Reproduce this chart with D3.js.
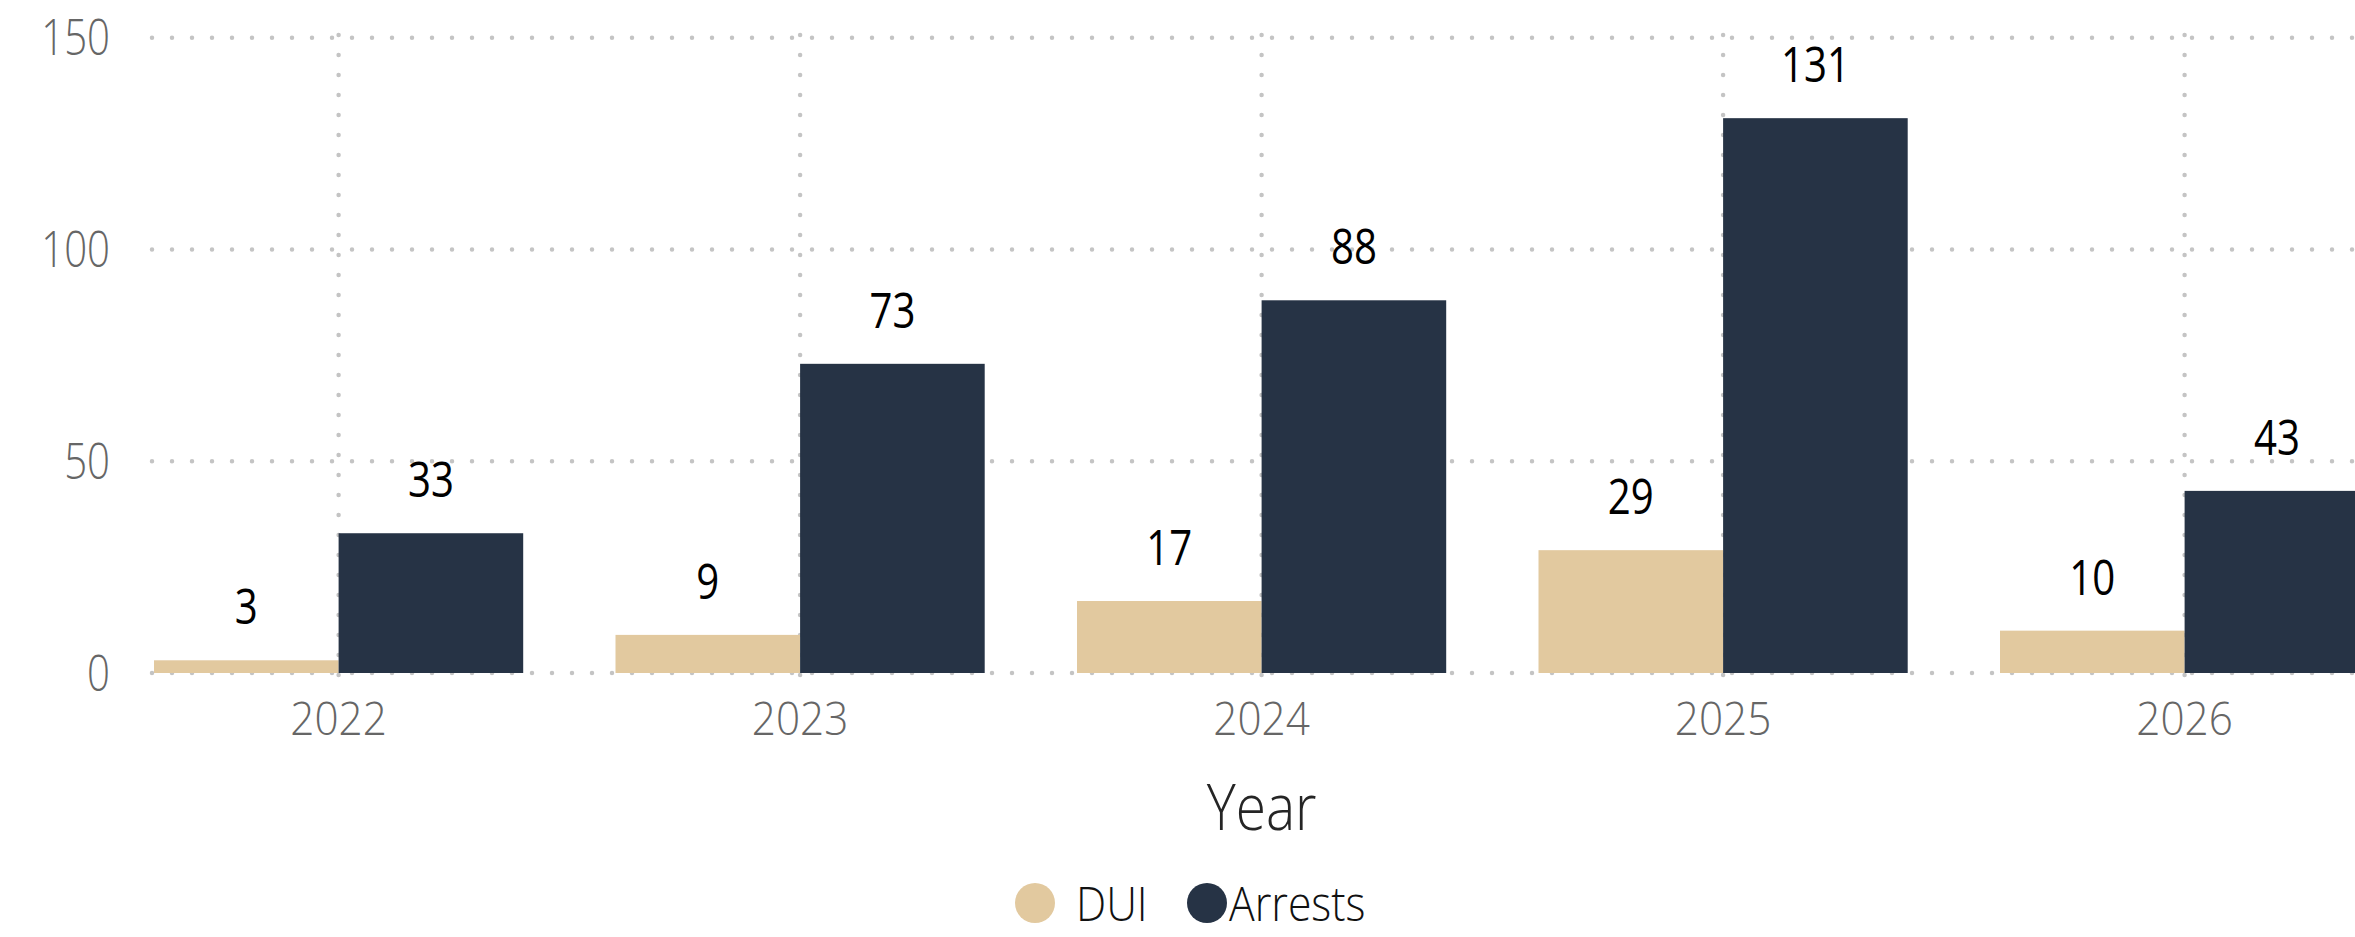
<!DOCTYPE html>
<html>
<head>
<meta charset="utf-8">
<script src="https://cdn.jsdelivr.net/npm/d3@7"></script>
<style>
  html, body { margin: 0; padding: 0; background: #fff; overflow: hidden; }
  text { font-family: 'Open Sans', 'Noto Sans', sans-serif; font-weight: 300; }
</style>
</head>
<body>
<svg id="chart" width="2355" height="937"></svg>
<script>
// chart values
const years = ['2022', '2023', '2024', '2025', '2026'];
const dui = [3, 9, 17, 29, 10];
const arrests = [33, 73, 88, 131, 43];
const seriesNames = ['DUI', 'Arrests'];
const yTicks = [0, 50, 100, 150];

const COLORS = ['#E2C99F', '#263345'];
const WIDTH = 2355;
const HEIGHT = 937;

// the reference font is narrower than Open Sans, squeeze text horizontally
function place(x, y, sx) {
    return `translate(${x},${y}) scale(${sx},1)`;
}

function make_chart() {
    let svg = d3.select('#chart');

    // x scale for the year groups
    let xScale = d3.scaleBand()
        .domain(years)
        .range([154, 154 + 461.5 * 4.8])
        .paddingInner(0.2)
        .paddingOuter(0);

    // inner scale for the two series in each group
    let xSub = d3.scaleBand()
        .domain(seriesNames)
        .range([0, xScale.bandwidth()]);

    let yScale = d3.scaleLinear()
        .domain([0, 150])
        .range([673, 37.7]);

    let color = d3.scaleOrdinal().domain(seriesNames).range(COLORS);

    // dotted gridlines
    let grid = svg.append('g').attr('id', 'grid')
        .attr('stroke', '#c4c4c4')
        .attr('stroke-width', 4.5)
        .attr('stroke-linecap', 'round')
        .attr('stroke-dasharray', '0 20');

    grid.selectAll('line.h')
        .data(yTicks)
        .join('line')
        .attr('class', 'h')
        .attr('x1', 152)
        .attr('x2', WIDTH)
        .attr('y1', d => yScale(d))
        .attr('y2', d => yScale(d));

    grid.selectAll('line.v')
        .data(years)
        .join('line')
        .attr('class', 'v')
        .attr('x1', d => xScale(d) + xScale.bandwidth() / 2)
        .attr('x2', d => xScale(d) + xScale.bandwidth() / 2)
        .attr('y1', 35)
        .attr('y2', 680);

    // flatten the series into one list of bars
    let bars = [];
    for (let i = 0; i < years.length; i++) {
        bars.push({year: years[i], series: 'DUI', value: dui[i]});
        bars.push({year: years[i], series: 'Arrests', value: arrests[i]});
    }

    svg.append('g').attr('id', 'bars')
        .selectAll('rect')
        .data(bars)
        .join('rect')
        .attr('x', d => xScale(d.year) + xSub(d.series))
        .attr('y', d => yScale(d.value))
        .attr('width', xSub.bandwidth())
        .attr('height', d => yScale(0) - yScale(d.value))
        .attr('fill', d => color(d.series));

    // value labels above each bar (regular weight, not light)
    svg.append('g').attr('id', 'values')
        .selectAll('text')
        .data(bars)
        .join('text')
        .text(d => d.value)
        .attr('transform', d => place(xScale(d.year) + xSub(d.series) + xSub.bandwidth() / 2, yScale(d.value) - 36, 0.82))
        .attr('text-anchor', 'middle')
        .attr('font-size', 49)
        .style('font-weight', 400)
        .attr('fill', '#000');

    // y tick labels
    svg.append('g').attr('id', 'y-labels')
        .selectAll('text')
        .data(yTicks)
        .join('text')
        .text(d => d)
        .attr('transform', d => place(110, yScale(d) + 17.5, 0.82))
        .attr('text-anchor', 'end')
        .attr('font-size', 49)
        .attr('fill', '#666');

    // x tick labels
    svg.append('g').attr('id', 'x-labels')
        .selectAll('text')
        .data(years)
        .join('text')
        .text(d => d)
        .attr('transform', d => place(xScale(d) + xScale.bandwidth() / 2, 735, 0.92))
        .attr('text-anchor', 'middle')
        .attr('font-size', 46)
        .attr('fill', '#666');

    // axis title
    let range = xScale.range();
    svg.append('text')
        .text('Year')
        .attr('transform', place((range[0] + range[1]) / 2, 830, 0.86))
        .attr('text-anchor', 'middle')
        .attr('font-size', 64)
        .attr('fill', '#252525');

    // legend
    let legendX = [1035, 1207];
    let legend = svg.append('g').attr('id', 'legend')
        .selectAll('g')
        .data(seriesNames)
        .join('g')
        .attr('transform', (d, i) => `translate(${legendX[i]}, 903)`);

    legend.append('circle')
        .attr('r', 20)
        .attr('fill', d => color(d));

    legend.append('text')
        .text(d => d)
        .attr('transform', (d, i) => place(i == 0 ? 41 : 22, 18, 0.89))
        .attr('font-size', 48)
        .attr('fill', '#111');
}

make_chart();
</script>
</body>
</html>
